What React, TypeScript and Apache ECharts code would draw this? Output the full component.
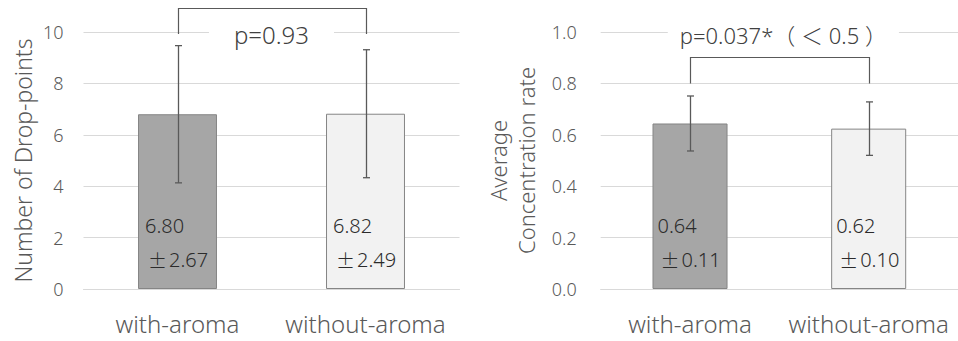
import React, { useEffect, useRef } from "react";
import * as echarts from "echarts";

const categories = ["with-aroma", "without-aroma"];
const dropMeans = [6.8, 6.82];
const dropSD = [2.67, 2.49];
const concMeans = [0.644, 0.624];
const concSD = [0.107, 0.104];
const dropTicks = { min: 0, max: 10, interval: 2 };
const concTicks = { min: 0, max: 1, interval: 0.2 };
const pTextDrop = "p=0.93";
const pTextConc = "p=0.037*（ ＜ 0.5 ）";

const FONT = "'Noto Sans', 'Noto Sans CJK JP', sans-serif";
const CJK = "'Noto Sans CJK JP', sans-serif";
const GRAY = "#595959";
const W = 300;

function errorSeries(idx: number, means: number[], sds: number[]) {
  return {
    type: "custom",
    xAxisIndex: idx,
    yAxisIndex: idx,
    clip: false,
    z: 5,
    data: means.map((m, i) => [i, m - sds[i], m + sds[i]]),
    encode: { x: 0, y: [1, 2] },
    renderItem: (_p: any, api: any) => {
      const lo = api.coord([api.value(0), api.value(1)]);
      const hi = api.coord([api.value(0), api.value(2)]);
      const x = Math.round(lo[0]) + 0.5;
      const cap = 3.5;
      const st = { stroke: GRAY, lineWidth: 1.3 };
      return {
        type: "group",
        children: [
          { type: "line", shape: { x1: x, y1: hi[1], x2: x, y2: lo[1] }, style: st },
          { type: "line", shape: { x1: x - cap, y1: hi[1], x2: x + cap, y2: hi[1] }, style: st },
          { type: "line", shape: { x1: x - cap, y1: lo[1], x2: x + cap, y2: lo[1] }, style: st },
        ],
      };
    },
  };
}

function labelSeries(idx: number, means: number[], sds: number[]) {
  const ink = "#2b2b2b";
  return {
    type: "custom",
    xAxisIndex: idx,
    yAxisIndex: idx,
    clip: false,
    z: 6,
    data: means.map((m, i) => [i, m, sds[i]]),
    encode: { x: 0, y: 1 },
    renderItem: (_p: any, api: any) => {
      const base = api.coord([api.value(0), 0]);
      const x = base[0] - 32.5;
      return {
        type: "group",
        children: [
          {
            type: "text",
            x,
            y: base[1] - 64,
            style: {
              text: api.value(1).toFixed(2),
              fill: ink,
              fontSize: 20,
              fontWeight: W,
              fontFamily: FONT,
              align: "left",
              verticalAlign: "middle",
            },
          },
          {
            type: "text",
            x: x + 3,
            y: base[1] - 30,
            style: {
              text: "{pm|±}{v|" + api.value(2).toFixed(2) + "}",
              fill: ink,
              fontSize: 20,
              fontFamily: FONT,
              align: "left",
              verticalAlign: "middle",
              rich: {
                pm: { fontFamily: CJK, fontSize: 19, fontWeight: W, fill: ink, padding: [0, 2, 0, 0] },
                v: { fontFamily: FONT, fontSize: 20, fontWeight: W, fill: ink },
              },
            },
          },
        ],
      };
    },
  };
}

function bracketSeries(
  idx: number,
  top: number,
  bottom: number,
  textY: number,
  text: string,
  textDx: number,
  textDy: number,
  padX: number,
  fontSize: number
) {
  return {
    type: "custom",
    xAxisIndex: idx,
    yAxisIndex: idx,
    clip: false,
    z: 4,
    data: [[0, 1, top, bottom, textY]],
    encode: { x: [0, 1], y: [2, 3] },
    renderItem: (_p: any, api: any) => {
      const aT = api.coord([api.value(0), api.value(2)]);
      const aB = api.coord([api.value(0), api.value(3)]);
      const bT = api.coord([api.value(1), api.value(2)]);
      const bB = api.coord([api.value(1), api.value(3)]);
      const tY = api.coord([api.value(0), api.value(4)])[1];
      const xa = Math.round(aT[0]) + 0.5;
      const xb = Math.round(bT[0]) + 0.5;
      const yt = Math.round(aT[1]) + 0.5;
      return {
        type: "group",
        children: [
          {
            type: "polyline",
            shape: { points: [[xa, aB[1]], [xa, yt], [xb, yt], [xb, bB[1]]] },
            style: { stroke: GRAY, lineWidth: 1.2, fill: "none" },
          },
          {
            type: "text",
            x: (aT[0] + bT[0]) / 2 + textDx,
            y: tY + textDy,
            style: {
              text,
              fill: "#404040",
              fontSize,
              fontWeight: W,
              fontFamily: FONT,
              align: "center",
              verticalAlign: "middle",
              backgroundColor: "#ffffff",
              padding: [3, padX],
            },
          },
        ],
      };
    },
  };
}

function xAxisCfg(idx: number) {
  return {
    type: "category",
    gridIndex: idx,
    data: categories,
    axisLine: { show: true, lineStyle: { color: "#d9d9d9", width: 1 } },
    axisTick: { show: false },
    axisLabel: {
      color: GRAY,
      fontSize: 24,
      fontWeight: W,
      fontFamily: FONT,
      margin: 22,
      interval: 0,
    },
  };
}

function yAxisCfg(idx: number, t: any, margin: number, fmt: (v: number) => string) {
  return {
    type: "value",
    gridIndex: idx,
    min: t.min,
    max: t.max,
    interval: t.interval,
    axisLine: { show: false },
    axisTick: { show: false },
    splitLine: { lineStyle: { color: "#d9d9d9", width: 1 } },
    axisLabel: { color: GRAY, fontSize: 18, fontWeight: W, fontFamily: FONT, margin, formatter: fmt },
  };
}

function barSeries(idx: number, means: number[]) {
  const fills = ["#a6a6a6", "#f2f2f2"];
  return {
    type: "bar",
    xAxisIndex: idx,
    yAxisIndex: idx,
    barWidth: "42%",
    z: 2,
    data: means.map((m, i) => ({
      value: m,
      itemStyle: { color: fills[i], borderColor: "#858585", borderWidth: 1 },
    })),
  };
}

export default function App() {
  const ref = useRef<HTMLDivElement>(null);
  useEffect(() => {
    if (!ref.current) return;
    const chart = echarts.init(ref.current, undefined, { renderer: "svg" });
    chart.setOption({
      animation: false,
      backgroundColor: "#ffffff",
      grid: [
        { left: 83.5, right: 498.5, top: 32, bottom: 52, containLabel: false },
        { left: 600.7, right: -9.3, top: 32, bottom: 52, containLabel: false },
      ],
      xAxis: [xAxisCfg(0), xAxisCfg(1)],
      yAxis: [
        yAxisCfg(0, dropTicks, 20, (v: number) => String(v)),
        yAxisCfg(1, concTicks, 24, (v: number) => v.toFixed(1)),
      ],
      graphic: [
        {
          type: "text",
          x: 23,
          y: 160.5,
          rotation: Math.PI / 2,
          style: {
            text: "Number of Drop-points",
            fill: GRAY,
            fontSize: 23,
            fontWeight: W,
            fontFamily: FONT,
            align: "center",
            verticalAlign: "middle",
            textAlign: "center",
            textVerticalAlign: "middle",
          },
        },
        {
          type: "text",
          x: 511.5,
          y: 160.5,
          rotation: Math.PI / 2,
          style: {
            text: "Average\nConcentration rate",
            fill: GRAY,
            fontSize: 22,
            fontWeight: W,
            lineHeight: 28,
            fontFamily: FONT,
            align: "center",
            verticalAlign: "middle",
            textAlign: "center",
            textVerticalAlign: "middle",
          },
        },
      ],
      series: [
        barSeries(0, dropMeans),
        errorSeries(0, dropMeans, dropSD),
        labelSeries(0, dropMeans, dropSD),
        bracketSeries(0, 10.93, 9.92, 10, pTextDrop, 0, 2, 25, 24),
        barSeries(1, concMeans),
        errorSeries(1, concMeans, concSD),
        labelSeries(1, concMeans, concSD),
        bracketSeries(1, 0.904, 0.8, 1.0, pTextConc, 4, 3, 12, 22),
      ],
    });
    return () => chart.dispose();
  }, []);
  return (
    <div
      ref={ref}
      style={{ position: "absolute", left: 0, top: 0, width: 958, height: 341 }}
    />
  );
}
